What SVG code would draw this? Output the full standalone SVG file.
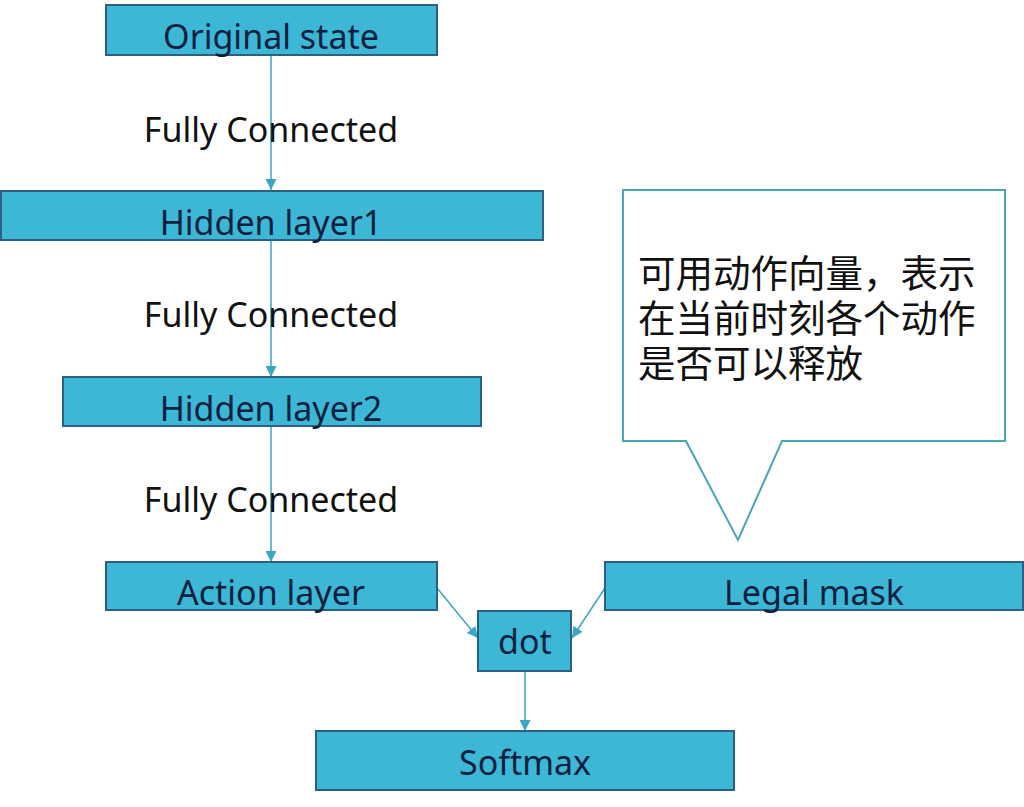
<svg xmlns="http://www.w3.org/2000/svg" width="1024" height="807" viewBox="0 0 1024 807">
<style>
.box{fill:#3cb7d5;stroke:#2b5f83;stroke-width:2}
.lbl{font-family:"Noto Sans","Noto Sans CJK SC",sans-serif;font-size:34px;fill:#0f1f3f;text-anchor:middle}
.fc{font-family:"Noto Sans","Noto Sans CJK SC",sans-serif;font-size:34px;fill:#111;text-anchor:middle}
.cn{font-family:"Noto Sans CJK SC",sans-serif;font-size:37.5px;fill:#111}
.ln{stroke:#3aa6c4;stroke-width:1.5;fill:none}
</style>
<defs>
<marker id="ah" viewBox="0 0 10 10" refX="10" refY="5" markerWidth="11" markerHeight="11" markerUnits="userSpaceOnUse" orient="auto">
<path d="M0,0 L10,5 L0,10 Z" fill="#3aa6c4"/>
</marker>
</defs>
<rect width="1024" height="807" fill="#fff"/>
<g id="connectors">
<line class="ln" x1="271" y1="55" x2="271" y2="190" marker-end="url(#ah)"/>
<line class="ln" x1="271" y1="240" x2="271" y2="377" marker-end="url(#ah)"/>
<line class="ln" x1="271" y1="426" x2="271" y2="562" marker-end="url(#ah)"/>
<line class="ln" x1="437" y1="588" x2="478" y2="638" marker-end="url(#ah)"/>
<line class="ln" x1="605" y1="588" x2="572" y2="638" marker-end="url(#ah)"/>
<line class="ln" x1="525" y1="671" x2="525" y2="731" marker-end="url(#ah)"/>
</g>
<g id="labels">
<text class="fc" x="271" y="142">Fully Connected</text>
<text class="fc" x="271" y="327">Fully Connected</text>
<text class="fc" x="271" y="512">Fully Connected</text>
</g>
<g id="original-state"><rect class="box" x="106" y="5" width="331" height="50"/><text class="lbl" x="271" y="49">Original state</text></g>
<g id="hidden-layer1"><rect class="box" x="1" y="191" width="542" height="49"/><text class="lbl" x="271" y="235">Hidden layer1</text></g>
<g id="hidden-layer2"><rect class="box" x="63" y="377" width="418" height="49"/><text class="lbl" x="271" y="421">Hidden layer2</text></g>
<g id="action-layer"><rect class="box" x="106" y="562" width="331" height="48"/><text class="lbl" x="271" y="605">Action layer</text></g>
<g id="legal-mask"><rect class="box" x="605" y="562" width="418" height="48"/><text class="lbl" x="814" y="605">Legal mask</text></g>
<g id="dot"><rect class="box" x="478" y="611" width="93" height="60"/><text class="lbl" x="525" y="654">dot</text></g>
<g id="softmax"><rect class="box" x="316" y="731" width="418" height="59"/><text class="lbl" x="525" y="775">Softmax</text></g>
<g id="callout">
<path d="M623,190 H1005 V441 H782 L738,540 L686,441 H623 Z" fill="#fff" stroke="#4aa6b4" stroke-width="2"/>
<text class="cn" x="638" y="287">可用动作向量，表示</text>
<text class="cn" x="638" y="332">在当前时刻各个动作</text>
<text class="cn" x="638" y="377">是否可以释放</text>
</g>
</svg>
